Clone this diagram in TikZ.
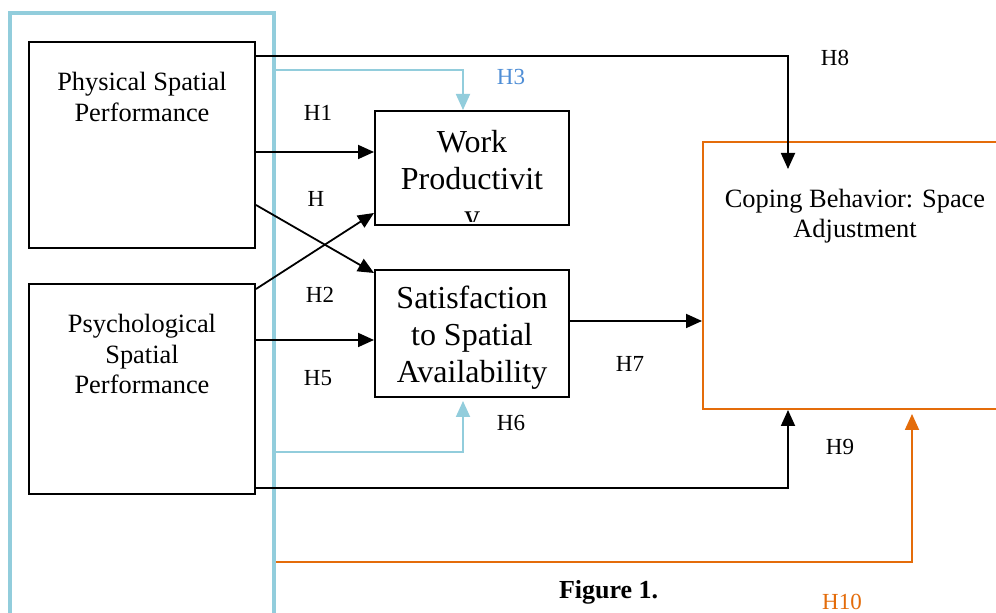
\documentclass[tikz,border=0pt]{standalone}
\usepackage{fontspec}
\setmainfont{Liberation Serif}
\usetikzlibrary{arrows.meta}
\definecolor{frameblue}{HTML}{92CDDC}
\definecolor{labblue}{HTML}{4F8ED6}
\definecolor{copeorange}{HTML}{E46C0A}
\tikzset{
  box/.style={draw=black, line width=1pt, minimum width=#1},
  txt/.style={align=center, font=\fontsize{13.2}{15.3}\selectfont},
  bigtxt/.style={align=center, font=\fontsize{16}{18.5}\selectfont},
  lbl/.style={font=\fontsize{11.5}{13}\selectfont},
  arr/.style={line width=0.9pt, -{Triangle[length=8pt,width=7pt]}},
  blarr/.style={arr, draw=frameblue},
  orarr/.style={arr, draw=copeorange}
}
\begin{document}
\begin{tikzpicture}[x=0.5pt,y=-0.5pt]
\clip (0,0) rectangle (996,613);
\fill[white] (0,0) rectangle (996,613);

% boxes
\node[draw=frameblue, line width=1.75pt, minimum width=132pt, minimum height=308.5pt] (frame) at (142,321.5) {};
\node[box=113pt, minimum height=103pt] (phys) at (142,145) {};
\node[box=113pt, minimum height=105pt] (psych) at (142,389) {};
\node[box=97pt, minimum height=57pt] (work) at (472,168) {};
\node[box=97pt, minimum height=63.5pt] (sat) at (472,333.5) {};
\node[draw=copeorange, line width=1pt, minimum width=153.5pt, minimum height=133.5pt] (cope) at (856.5,275.5) {};

\node[txt] (phystext) at (142,97) {Physical Spatial\\Performance};
\node[txt] (psychtext) at (142,354) {Psychological\\Spatial\\Performance};
\begin{scope}
  \clip ([yshift=2pt]work.south west) rectangle (work.north east);
  \node[bigtxt] (worktext) at (472,181.5) {Work\\Productivit\\y};
\end{scope}
\node[bigtxt] (sattext) at (472,338) {Satisfaction\\to Spatial\\Availability};
\node[txt] (copetext) at (855,216) {Coping Behavior: Space\\Adjustment};

% paths
\draw[arr] ([yshift=-7.5pt]phys.north east) -| ([shift={(43pt,-14pt)}]cope.north west);
\draw[blarr] ([yshift=-29.5pt]frame.north east) -| ([xshift=-4.5pt]work.north);
\draw[arr] ([yshift=-3.5pt]phys.east) -- ([yshift=-3.5pt]phys.east -| work.west);
\draw[arr] ([yshift=-30pt]phys.east) -- ([yshift=-2pt]sat.north west);
\draw[arr] ([yshift=-3pt]psych.north east) -- ([yshift=6.5pt]work.south west);
\draw[arr] ([yshift=24.5pt]psych.east) -- ([yshift=24.5pt]psych.east -| sat.west);
\draw[blarr] ([yshift=-65.25pt]frame.east) -| ([shift={(-4.5pt,-1.5pt)}]sat.south);
\draw[arr] ([yshift=6.25pt]sat.east) -- ([yshift=6.25pt]sat.east -| cope.west);
\draw[arr] ([yshift=3.5pt]psych.south east) -| ([xshift=43pt]cope.south west);
\draw[orarr] ([yshift=-120.25pt]frame.east) -| ([shift={(105pt,-2pt)}]cope.south west);

% labels
\foreach \nm/\x/\y in {H1/318/113, H/316/199, H2/320/295, H5/318/378, H6/511/423, H7/630/364, H8/835/58, H9/840/447}{
  \node[lbl] (lab\nm) at (\x,\y) {\nm};
}
\node[lbl, text=labblue] (labH3) at (511,77) {H3};
\node[lbl, text=copeorange] (labH10) at (842,602) {H10};
\node[anchor=west, font=\fontsize{13}{15}\selectfont\bfseries] (figlab) at (552,592) {Figure 1.};
\end{tikzpicture}
\end{document}
